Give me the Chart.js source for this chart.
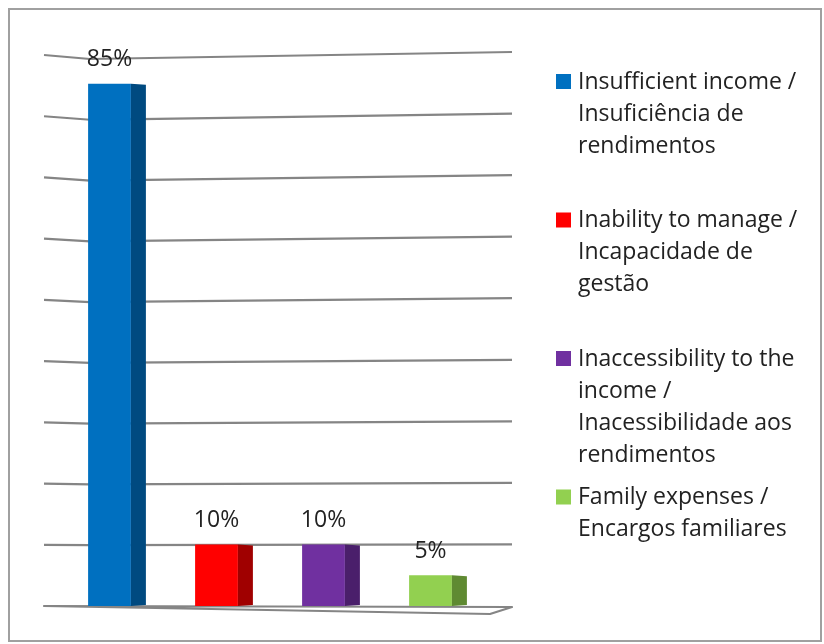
<!DOCTYPE html>
<html>
<head>
<meta charset="utf-8">
<script src="https://cdn.jsdelivr.net/npm/chart.js@4/dist/chart.umd.min.js"></script>
<style>
  body { margin: 0; background: #fff; }
  #wrap { position: relative; width: 824px; height: 644px; }
</style>
</head>
<body>
<div id="wrap"><canvas id="chart" width="824" height="644"></canvas></div>
<script>
// reasons for over-indebtedness (share of answers)
const categories = [
  ["Insufficient income /", "Insuficiência de", "rendimentos"],
  ["Inability to manage /", "Incapacidade de", "gestão"],
  ["Inaccessibility to the", "income /", "Inacessibilidade aos", "rendimentos"],
  ["Family expenses /", "Encargos familiares"]
];
const values = [85, 10, 10, 5];
const frontColors = ["#0070C0", "#FF0000", "#7030A0", "#92D050"];
const sideColors = ["#004A80", "#A00000", "#4A1F6B", "#5F8A32"];
const yTicks = [0, 10, 20, 30, 40, 50, 60, 70, 80, 90];

const FONT = "23px 'Open Sans', sans-serif";
const TEXT = "#222";

// back wall grid + floor, drawn from the y scale ticks with a bit of perspective
const wallPlugin = {
  id: "wall",
  beforeDatasetsDraw(chart) {
    const ctx = chart.ctx;
    const y = chart.scales.y;
    const top = y.getPixelForValue(yTicks[yTicks.length - 1]);
    const bottom = y.getPixelForValue(0);
    ctx.save();
    ctx.strokeStyle = "#858585";
    ctx.lineWidth = 2.2;
    ctx.lineJoin = "round";
    yTicks.forEach(v => {
      const py = y.getPixelForValue(v);
      const d = (bottom - py) / (bottom - top);
      ctx.beginPath();
      if (v === 0) {
        ctx.moveTo(44, py);
        ctx.lineTo(512, py + 1);
        ctx.lineTo(490, py + 8);
        ctx.closePath();
      } else {
        ctx.moveTo(44, py + 2 * d);
        ctx.lineTo(90, py + 6 * d);
        ctx.lineTo(512, py - 1 * d);
      }
      ctx.stroke();
    });
    ctx.restore();
  },
  afterDatasetsDraw(chart) {
    const ctx = chart.ctx;
    const meta = chart.getDatasetMeta(0);
    ctx.save();
    meta.data.forEach((bar, i) => {
      const right = bar.x + bar.width / 2;
      const depth = 15;
      // right side face of the block
      ctx.fillStyle = sideColors[i];
      ctx.beginPath();
      ctx.moveTo(right, bar.y);
      ctx.lineTo(right + depth, bar.y + 1);
      ctx.lineTo(right + depth, bar.base - 1);
      ctx.lineTo(right, bar.base);
      ctx.closePath();
      ctx.fill();
      // value label
      ctx.fillStyle = TEXT;
      ctx.font = FONT;
      ctx.textAlign = "center";
      ctx.textBaseline = "middle";
      ctx.fillText(values[i] + "%", bar.x, bar.y - 24);
    });
    ctx.restore();
  },
  afterDraw(chart) {
    const ctx = chart.ctx;
    ctx.save();
    // outer frame
    ctx.strokeStyle = "#a0a0a0";
    ctx.lineWidth = 2;
    ctx.strokeRect(9, 9, 812, 632);
    // legend
    ctx.font = FONT;
    ctx.textAlign = "left";
    ctx.textBaseline = "middle";
    categories.forEach((lines, i) => {
      const y0 = 82 + i * 138.5;
      ctx.fillStyle = frontColors[i];
      ctx.fillRect(556, y0 - 8, 15, 15);
      ctx.fillStyle = TEXT;
      lines.forEach((t, j) => ctx.fillText(t, 578, y0 + j * 32));
    });
    ctx.restore();
  }
};

new Chart(document.getElementById("chart"), {
  type: "bar",
  data: {
    labels: categories,
    datasets: [{
      data: values,
      backgroundColor: frontColors,
      borderWidth: 0,
      barPercentage: 0.8,
      categoryPercentage: 0.5
    }]
  },
  options: {
    responsive: false,
    animation: false,
    layout: { padding: { left: 56, right: 824 - 484, top: 53, bottom: 644 - 606 } },
    plugins: { legend: { display: false }, tooltip: { enabled: false } },
    scales: {
      x: { display: false, offset: true },
      y: { display: false, min: 0, max: 90, ticks: { stepSize: 10 } }
    }
  },
  plugins: [wallPlugin]
});
</script>
</body>
</html>
